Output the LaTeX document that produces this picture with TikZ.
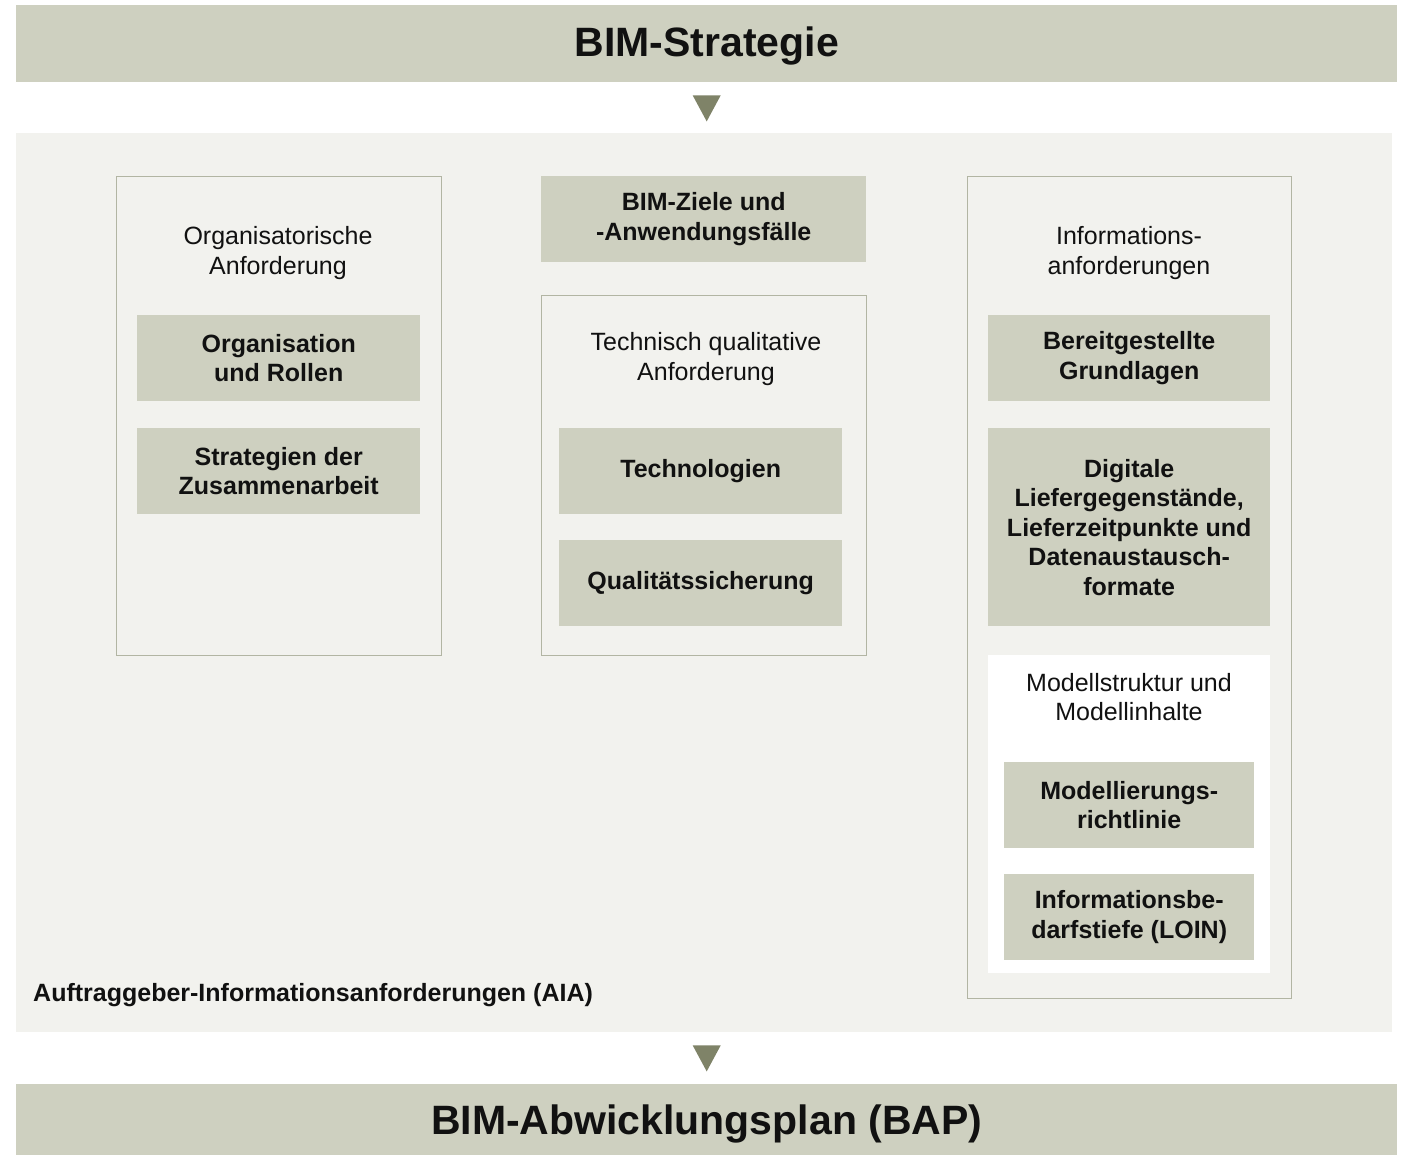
\documentclass[tikz,border=0pt]{standalone}
\usepackage{fontspec}
\setmainfont{Liberation Sans}
\usetikzlibrary{calc}
\definecolor{barfill}{RGB}{206,208,192}
\definecolor{bgfill}{RGB}{242,242,238}
\definecolor{frameline}{RGB}{178,181,163}
\definecolor{trifill}{RGB}{127,131,104}
\definecolor{txt}{RGB}{17,17,17}
\begin{document}
\begin{tikzpicture}[x=1pt,y=-1pt,
  every node/.style={text=txt},
  bigbar/.style={fill=barfill, draw=none, anchor=north west, inner sep=0pt},
  bigtext/.style={inner sep=0pt, font=\fontsize{41}{48}\selectfont\bfseries},
  fillbox/.style={fill=barfill, draw=none, anchor=north west, inner sep=0pt, align=center,
    font=\fontsize{25}{29.5}\selectfont\bfseries},
  framebox/.style={fill=bgfill, draw=frameline, line width=1.1pt, anchor=north west, inner sep=0pt},
  whitebox/.style={fill=white, draw=none, anchor=north west, inner sep=0pt},
  titletext/.style={align=center, inner sep=0pt, font=\fontsize{25}{29.5}\selectfont},
  tri/.style={fill=trifill, draw=none}
]
\useasboundingbox (0,0) rectangle (1408,1155);
\fill[white] (0,0) rectangle (1408,1155);

% top and bottom bars
\node[bigbar, minimum width=1381pt, minimum height=77pt] (top) at (16,5) {};
\node[bigtext] (toptext) at ($(top.center)+(0,2)$) {BIM-Strategie};
\node[bigbar, minimum width=1381pt, minimum height=71pt] (bap) at (16,1084) {};
\node[bigtext] (baptext) at ($(bap.center)+(0,4)$) {BIM-Abwicklungsplan (BAP)};

% AIA background
\node[fill=bgfill, draw=none, anchor=north west, inner sep=0pt, minimum width=1376pt, minimum height=899pt] (aia) at (16,133) {};
\node[anchor=west, inner sep=0pt, font=\fontsize{25}{29.5}\selectfont\bfseries] (aialabel) at (33,995) {Auftraggeber-Informationsanforderungen (AIA)};

% triangles
\fill[tri] ($(top.south)+(-14,13)$) -- ++(28,0) -- ++(-14,26) -- cycle;
\fill[tri] ($(top.south |- aia.south)+(-14,13)$) -- ++(28,0) -- ++(-14,26) -- cycle;

% left column
\node[framebox, minimum width=325pt, minimum height=479pt] (left) at (116,176) {};
\node[titletext] (lefttitle) at (278,253) {Organisatorische\\Anforderung};
\node[fillbox, minimum width=283pt, minimum height=86pt] (org) at (137,315) {Organisation\\und Rollen};
\node[fillbox, minimum width=283pt, minimum height=86pt] (strat) at (137,428) {Strategien der\\Zusammenarbeit};

% middle column
\node[fillbox, minimum width=325pt, minimum height=86pt] (ziele) at (541,176) {BIM-Ziele und\\-Anwendungsfälle};
\node[framebox, minimum width=325pt, minimum height=360pt] (mid) at (541,295) {};
\node[titletext] (midtitle) at (706,359) {Technisch qualitative\\Anforderung};
\node[fillbox, minimum width=283pt, minimum height=86pt] (tech) at (559,428) {Technologien};
\node[fillbox, minimum width=283pt, minimum height=86pt] (qual) at (559,540) {Qualitätssicherung};

% right column
\node[framebox, minimum width=324pt, minimum height=822pt] (right) at (967,176) {};
\node[titletext] (righttitle) at (1129,253) {Informations-\\anforderungen};
\node[fillbox, minimum width=282pt, minimum height=86pt] (grund) at (988,315) {Bereitgestellte\\Grundlagen};
\node[fillbox, minimum width=282pt, minimum height=198pt] (digi) at (988,428) {Digitale\\Liefergegenstände,\\Lieferzeitpunkte und\\Datenaustausch-\\formate};
\node[whitebox, minimum width=282pt, minimum height=318pt] (modell) at (988,655) {};
\node[titletext] (modelltitle) at (1129,697) {Modellstruktur und\\Modellinhalte};
\node[fillbox, minimum width=250pt, minimum height=86pt] (richt) at (1004,762) {Modellierungs-\\richtlinie};
\node[fillbox, minimum width=250pt, minimum height=86pt] (loin) at (1004,874) {Informationsbe-\\darfstiefe (LOIN)};
\end{tikzpicture}
\end{document}
